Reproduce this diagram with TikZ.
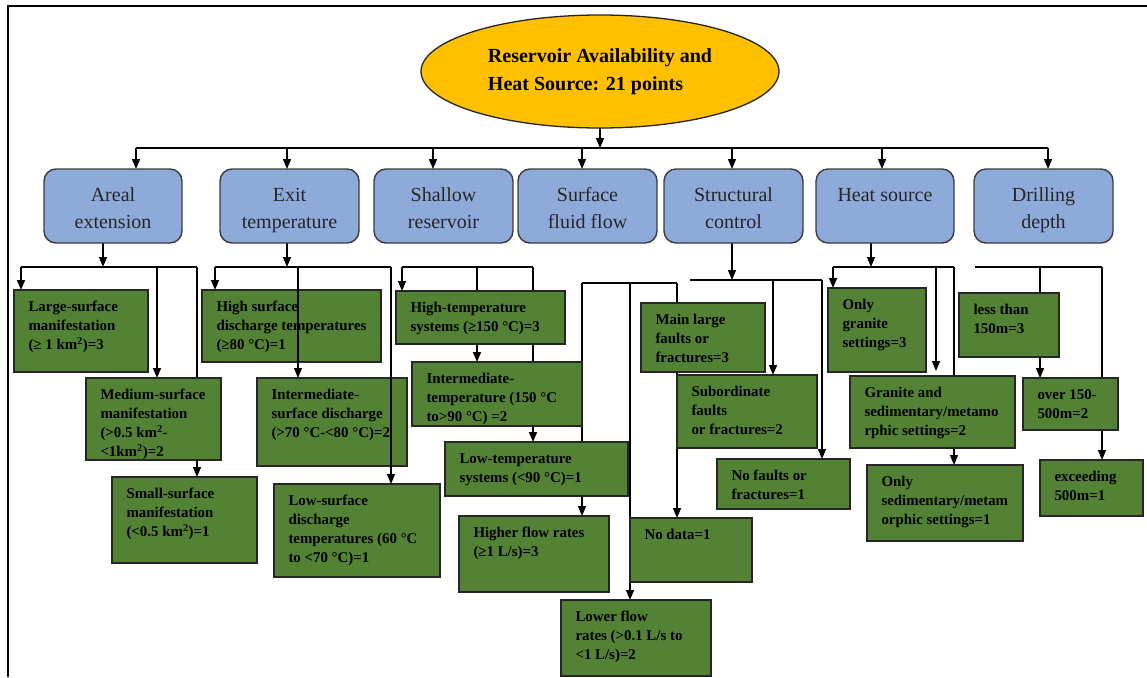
\documentclass[tikz,border=0pt]{standalone}
\usepackage{fontspec}
\setmainfont{Liberation Serif}
\usetikzlibrary{arrows.meta,shapes.geometric}
\definecolor{goldfill}{HTML}{FFC000}
\definecolor{bluefill}{HTML}{8EAADB}
\definecolor{greenfill}{HTML}{548235}
\definecolor{edgecol}{HTML}{262626}
\pgfdeclarelayer{bg}
\pgfsetlayers{bg,main}
\newcommand\mkgreen[6]{%
  \pgfmathsetmacro\myW{#4-#2}\pgfmathsetmacro\myH{#5-#3}%
  \node[gbox, anchor=north west] (#1) at (#2,#3) {\parbox[c][\myH pt][t]{\myW pt}{\vspace*{8.5pt}\hspace*{14.5pt}\begin{tabular}[t]{@{}l@{}}#6\end{tabular}}};}
\newcommand\mkblue[4]{%
  \pgfmathsetmacro\myW{#3-#2}%
  \node[bbox, anchor=north west] (#1) at (#2,169) {\parbox[c][74pt][t]{\myW pt}{\vspace*{13.5pt}\centering\begin{tabular}[t]{@{}c@{}}#4\end{tabular}}};}
\begin{document}
\begin{tikzpicture}[x=1pt,y=-1pt,
  ln/.style={line width=1.3pt, draw=black},
  arr/.style={ln, -{Triangle[length=10pt,width=8pt]}},
  gbox/.style={draw=edgecol, line width=1.6pt, fill=greenfill, inner sep=0pt, outer sep=0pt, font=\bfseries\fontsize{14.9}{19}\selectfont, text=black},
  bbox/.style={draw=edgecol!90, line width=1.4pt, fill=bluefill, rounded corners=12pt, inner sep=0pt, outer sep=0pt, font=\fontsize{20}{27}\selectfont, text=black!85}]
\useasboundingbox (0,0) rectangle (1147,677);
\draw[line width=1.8pt] (8,677) -- (8,6) -- (1147,6);

% top ellipse
\node[ellipse, draw=edgecol, line width=1.3pt, fill=goldfill, minimum width=358pt, minimum height=113pt, inner sep=0pt, outer sep=0pt, align=left, font=\bfseries\fontsize{20}{28}\selectfont] (top) at (600,71.5) {Reservoir Availability and\\Heat Source: 21 points};

% blue category boxes
\mkblue{A}{44}{182}{Areal\\extension}
\mkblue{E}{220}{359}{Exit\\temperature}
\mkblue{S}{374}{513}{Shallow\\reservoir}
\mkblue{F}{518}{657}{Surface\\fluid flow}
\mkblue{C}{664}{803}{Structural\\control}
\mkblue{H}{816}{954}{Heat source}
\mkblue{D}{974}{1113}{Drilling\\depth}

% green option boxes
\mkgreen{a1}{14}{290}{148}{372}{Large-surface\\manifestation\\(≥ 1 km\textsuperscript{2})=3}
\mkgreen{a2}{86}{378}{221}{460}{Medium-surface\\manifestation\\(>0.5 km\textsuperscript{2}-\\<1km\textsuperscript{2})=2}
\mkgreen{a3}{112}{477}{257}{563}{Small-surface\\manifestation\\(<0.5 km\textsuperscript{2})=1}
\mkgreen{e1}{202}{290}{381}{362}{High surface\\discharge temperatures\\(≥80 °C)=1}
\mkgreen{e2}{257}{378}{407}{466}{Intermediate-\\surface discharge\\(>70 °C-<80 °C)=2}
\mkgreen{e3}{274}{484}{440}{577}{Low-surface\\discharge\\temperatures (60 °C\\to <70 °C)=1}
\mkgreen{s1}{396}{291}{565}{344}{High-temperature\\systems (≥150 °C)=3}
\mkgreen{s2}{412}{362}{582}{426}{Intermediate-\\temperature (150 °C\\to>90 °C) =2}
\mkgreen{s3}{445}{442}{628}{496}{Low-temperature\\systems (<90 °C)=1}
\mkgreen{f1}{459}{516}{609}{592}{Higher flow rates\\(≥1 L/s)=3}
\mkgreen{f2}{561}{600}{711}{676}{Lower flow\\rates (>0.1 L/s to\\<1 L/s)=2}
\mkgreen{c1}{641}{303}{765}{372}{Main large\\faults or\\fractures=3}
\mkgreen{c2}{677}{375}{817}{448}{Subordinate\\faults\\or fractures=2}
\mkgreen{c3}{717}{459}{850}{509}{No faults or\\fractures=1}
\mkgreen{c4}{630}{518}{752}{582}{No data=1}
\mkgreen{h1}{828}{288}{926}{372}{Only\\granite\\settings=3}
\mkgreen{h2}{850}{376}{1015}{448}{Granite and\\sedimentary/metamo\\rphic settings=2}
\mkgreen{h3}{867}{465}{1023}{541}{Only\\sedimentary/metam\\orphic settings=1}
\mkgreen{d1}{959}{293}{1059}{357}{less than\\150m=3}
\mkgreen{d2}{1023}{378}{1118}{430}{over 150-\\500m=2}
\mkgreen{d3}{1040}{460}{1143}{516}{exceeding\\500m=1}

\begin{pgfonlayer}{bg}
% top level
\coordinate (tJ) at (600,148);
\draw[arr] (top.south) -- (tJ);
\coordinate (tA) at (136,148);
\coordinate (tD) at (1048,148);
\draw[ln] (tA) -- (tD);
\foreach \n/\x in {A/136,E/287,S/433,F/582,C/732,H/882,D/1048}{
  \coordinate (t\n) at (\x,148);
  \draw[arr] (t\n) -- (t\n |- \n.north);
}
% Areal extension
\coordinate (aJ) at (103,267);
\coordinate (aL) at (21,267);
\coordinate (aM) at (157,267);
\coordinate (aR) at (197,267);
\draw[arr] (aJ |- A.south) -- (aJ);
\draw[ln] (aL) -- (aR);
\draw[arr] (aL) -- (aL |- a1.north);
\draw[arr] (aM) -- (aM |- a2.north);
\draw[arr] (aR) -- (aR |- a3.north);
% Exit temperature
\coordinate (eJ) at (287,267);
\coordinate (eL) at (215,267);
\coordinate (eM) at (298,267);
\coordinate (eR) at (391,267);
\draw[arr] (eJ |- E.south) -- (eJ);
\draw[ln] (eL) -- (eR);
\draw[arr] (eL) -- (eL |- e1.north);
% Shallow reservoir
\coordinate (sL) at (402,267);
\coordinate (sM) at (477,267);
\coordinate (sR) at (533,267);
\draw[ln] (sL) -- (sR);
\draw[arr] (sL) -- (sL |- s1.north);
\draw[arr] (sM) -- (sM |- s2.north);
\draw[arr] (sR) -- (sR |- s3.north);
% Surface fluid flow
\coordinate (fL) at (582,283);
\coordinate (fM) at (630,283);
\coordinate (fR) at (677,283);
\draw[ln] (fL) -- (fR);
\draw[arr] (fL) -- (fL |- f1.north);
\draw[arr] (fM) -- (fM |- f2.north);
\draw[arr] (fR) -- (fR |- c4.north);
% Structural control
\coordinate (cJ) at (732,280);
\coordinate (cL) at (690,280);
\coordinate (cM) at (773,280);
\coordinate (cR) at (822,280);
\draw[arr] (cJ |- C.south) -- (cJ);
\draw[ln] (cL) -- (cR);
\draw[arr] (cM) -- (cM |- c2.north);
\draw[arr] (cR) -- (cR |- c3.north);
% Heat source
\coordinate (hJ) at (871,267);
\coordinate (hL) at (833,267);
\coordinate (hM) at (936,267);
\coordinate (hR) at (954,267);
\draw[arr] (hJ |- H.south) -- (hJ);
\draw[ln] (hL) -- (hR);
\draw[arr] (hL) -- (hL |- h1.north);
\draw[arr] (hM) -- ([yshift=5pt]hM |- h2.north);
\draw[arr] (hR) -- (hR |- h3.north);
% Drilling depth
\coordinate (dL) at (975,267);
\coordinate (dM) at (1040,267);
\coordinate (dR) at (1102,267);
\draw[ln] (dL) -- (dR);
\draw[arr] (dM) -- (dM |- d2.north);
\draw[arr] (dR) -- (dR |- d3.north);
\end{pgfonlayer}

% exit temperature lines drawn over the boxes
\draw[arr] (eM) -- (eM |- e2.north);
\draw[arr] (eR) -- (eR |- e3.north);
\end{tikzpicture}
\end{document}
